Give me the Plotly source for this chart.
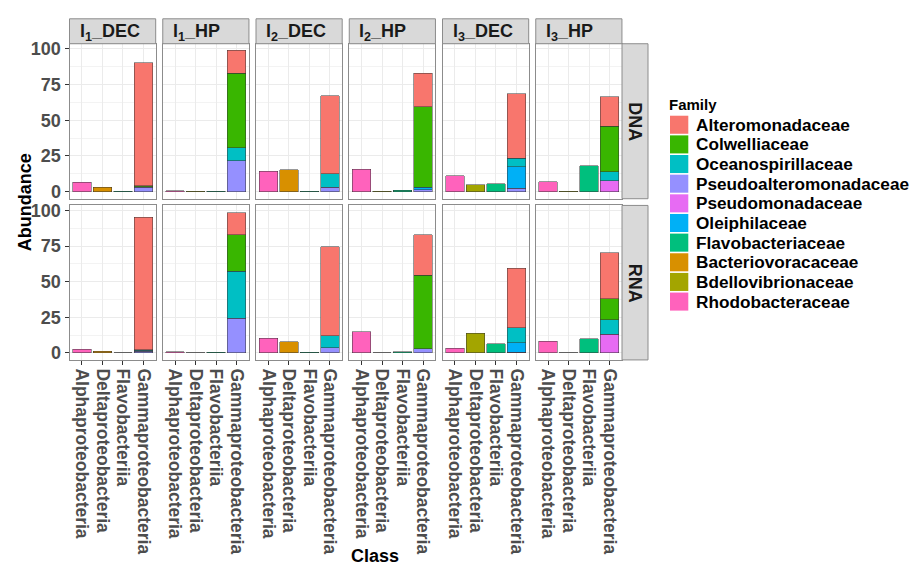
import plotly.graph_objects as go

W, H = 919, 568

# ---------------- data ----------------
panels = ["l1_DEC", "l1_HP", "l2_DEC", "l2_HP", "l3_DEC", "l3_HP"]
panel_labels = ["l<sub>1</sub>_DEC", "l<sub>1</sub>_HP", "l<sub>2</sub>_DEC",
                "l<sub>2</sub>_HP", "l<sub>3</sub>_DEC", "l<sub>3</sub>_HP"]
row_labels = ["DNA", "RNA"]
classes = ["Alphaproteobacteria", "Deltaproteobacteria", "Flavobacteriia", "Gammaproteobacteria"]

families = ["Alteromonadaceae", "Colwelliaceae", "Oceanospirillaceae", "Pseudoalteromonadaceae",
            "Pseudomonadaceae", "Oleiphilaceae", "Flavobacteriaceae", "Bacteriovoracaceae",
            "Bdellovibrionaceae", "Rhodobacteraceae"]
family_colors = ["#F8766D", "#39B600", "#00BFC4", "#9590FF", "#E76BF3",
                 "#00B0F6", "#00BF7D", "#D89000", "#A3A500", "#FF62BC"]
family_class = ["Gammaproteobacteria", "Gammaproteobacteria", "Gammaproteobacteria",
                "Gammaproteobacteria", "Gammaproteobacteria", "Gammaproteobacteria",
                "Flavobacteriia", "Deltaproteobacteria", "Deltaproteobacteria",
                "Alphaproteobacteria"]
# stacking order, bottom to top
stack_order = ["Rhodobacteraceae", "Bacteriovoracaceae", "Bdellovibrionaceae", "Flavobacteriaceae",
               "Pseudoalteromonadaceae", "Pseudomonadaceae", "Oleiphilaceae",
               "Oceanospirillaceae", "Colwelliaceae", "Alteromonadaceae"]

# abundance per panel (l1_DEC, l1_HP, l2_DEC, l2_HP, l3_DEC, l3_HP)
Rhodobacteraceae_DNA = [6.6, 0.8, 14.4, 15.8, 11.0, 6.9]
Rhodobacteraceae_RNA = [2.6, 0.8, 10.4, 15.0, 3.3, 8.1]
Bacteriovoracaceae_DNA = [3.2, 0, 15.3, 0, 0, 0]
Bacteriovoracaceae_RNA = [1.2, 0, 7.9, 0, 0, 0]
Bdellovibrionaceae_DNA = [0, 0.3, 0, 0.3, 4.8, 0.3]
Bdellovibrionaceae_RNA = [0, 0.3, 0, 0.3, 13.9, 0.3]
Flavobacteriaceae_DNA = [0.4, 0.3, 0.4, 1.1, 5.5, 18.3]
Flavobacteriaceae_RNA = [0.3, 0.4, 0.5, 1.0, 6.5, 10.0]
Pseudoalteromonadaceae_DNA = [3.0, 21.5, 3.0, 1.5, 2.3, 0]
Pseudoalteromonadaceae_RNA = [1.2, 24.5, 3.5, 3.0, 0.5, 0]
Pseudomonadaceae_DNA = [0, 0, 0, 0, 0, 7.8]
Pseudomonadaceae_RNA = [0, 0, 0, 0, 0, 13.2]
Oleiphilaceae_DNA = [0, 0, 0, 1.5, 15.3, 0]
Oleiphilaceae_RNA = [0, 0, 0, 0, 6.7, 0]
Oceanospirillaceae_DNA = [0.5, 9.2, 9.4, 0, 5.7, 6.1]
Oceanospirillaceae_RNA = [0.6, 32.8, 8.5, 0, 10.4, 10.1]
Colwelliaceae_DNA = [0.6, 52.3, 0, 56.5, 0, 31.9]
Colwelliaceae_RNA = [0.6, 25.6, 0, 51.5, 0, 14.6]
Alteromonadaceae_DNA = [86.0, 15.8, 54.9, 23.5, 45.1, 20.6]
Alteromonadaceae_RNA = [92.8, 15.4, 62.6, 28.4, 41.7, 32.3]

values = {
    "Rhodobacteraceae": (Rhodobacteraceae_DNA, Rhodobacteraceae_RNA),
    "Bacteriovoracaceae": (Bacteriovoracaceae_DNA, Bacteriovoracaceae_RNA),
    "Bdellovibrionaceae": (Bdellovibrionaceae_DNA, Bdellovibrionaceae_RNA),
    "Flavobacteriaceae": (Flavobacteriaceae_DNA, Flavobacteriaceae_RNA),
    "Pseudoalteromonadaceae": (Pseudoalteromonadaceae_DNA, Pseudoalteromonadaceae_RNA),
    "Pseudomonadaceae": (Pseudomonadaceae_DNA, Pseudomonadaceae_RNA),
    "Oleiphilaceae": (Oleiphilaceae_DNA, Oleiphilaceae_RNA),
    "Oceanospirillaceae": (Oceanospirillaceae_DNA, Oceanospirillaceae_RNA),
    "Colwelliaceae": (Colwelliaceae_DNA, Colwelliaceae_RNA),
    "Alteromonadaceae": (Alteromonadaceae_DNA, Alteromonadaceae_RNA),
}
y_ticks = [0, 25, 50, 75, 100]

# ---------------- layout geometry (pixels) ----------------
FONT = "Liberation Sans, Arial, Helvetica, sans-serif"
col_left0, col_w, col_step = 69.5, 86.2, 93.25
row_px = [(39.3, 196.5), (203.3, 360.0)]
strip_top = (14.0, 39.3)
strip_right = (622.0, 648.0)
border = "#8C8C8C"


def px(xp):
    return xp / W


def py(yp):
    return 1 - yp / H


fig = go.Figure()
layout = dict(
    width=W, height=H, margin=dict(l=0, r=0, t=0, b=0),
    paper_bgcolor="white", plot_bgcolor="white",
    barmode="stack", bargap=0.1, showlegend=False,
    font=dict(family=FONT),
)
shapes, annotations = [], []

for r in range(2):
    for c in range(6):
        n = r * 6 + c + 1
        xa = "x" if n == 1 else f"x{n}"
        ya = "y" if n == 1 else f"y{n}"
        x0 = col_left0 + c * col_step
        x1 = x0 + col_w
        ytop, ybot = row_px[r]
        for fam in stack_order:
            i = families.index(fam)
            v = values[fam][r][c]
            if v <= 0:
                continue
            fig.add_trace(go.Bar(
                x=[family_class[i]], y=[v], name=fam,
                marker=dict(color=family_colors[i], line=dict(color="#333333", width=0.5)),
                xaxis=xa, yaxis=ya, showlegend=False,
            ))
        xkey = "xaxis" if n == 1 else f"xaxis{n}"
        ykey = "yaxis" if n == 1 else f"yaxis{n}"
        layout[xkey] = dict(
            domain=[px(x0), px(x1)], anchor=ya,
            type="category", categoryorder="array", categoryarray=classes,
            tickmode="array", tickvals=classes, ticktext=classes,
            range=[-0.6, 3.6],
            showgrid=True, gridcolor="#EBEBEB", gridwidth=1,
            showline=True, mirror=True, linecolor=border, linewidth=1,
            ticks="outside" if r == 1 else "", ticklen=4, tickcolor="#333333",
            showticklabels=(r == 1), tickangle=90,
            tickfont=dict(family=FONT, size=17.5, color="#4D4D4D", weight="bold"),
            fixedrange=True,
        )
        layout[ykey] = dict(
            domain=[py(ybot), py(ytop)], anchor=xa,
            range=[-4.9, 103.5],
            tickmode="array", tickvals=y_ticks,
            showgrid=True, gridcolor="#EBEBEB", gridwidth=1,
            minor=dict(dtick=12.5, tick0=0, showgrid=True, gridcolor="#F3F3F3", gridwidth=0.6),
            zeroline=False,
            showline=True, mirror=True, linecolor=border, linewidth=1,
            ticks="outside" if c == 0 else "", ticklen=4, tickcolor="#333333",
            showticklabels=(c == 0),
            tickfont=dict(family=FONT, size=18, color="#4D4D4D", weight="bold"),
            fixedrange=True,
        )
        # top strips
        if r == 0:
            shapes.append(dict(type="rect", xref="paper", yref="paper",
                               x0=px(x0), x1=px(x1), y0=py(strip_top[1]), y1=py(strip_top[0]),
                               fillcolor="#D9D9D9", line=dict(color=border, width=1)))
            annotations.append(dict(xref="paper", yref="paper", x=px(x0 + 8),
                                    y=py((strip_top[0] + strip_top[1]) / 2 + 1),
                                    text=panel_labels[c], showarrow=False,
                                    xanchor="left", yanchor="middle",
                                    font=dict(family=FONT, size=18, color="#1A1A1A", weight="bold")))
    # right strips
    ytop, ybot = row_px[r]
    shapes.append(dict(type="rect", xref="paper", yref="paper",
                       x0=px(strip_right[0]), x1=px(strip_right[1]), y0=py(ybot), y1=py(ytop),
                       fillcolor="#D9D9D9", line=dict(color=border, width=1)))
    annotations.append(dict(xref="paper", yref="paper",
                            x=px((strip_right[0] + strip_right[1]) / 2), y=py((ytop + ybot) / 2),
                            text=row_labels[r], showarrow=False, textangle=90,
                            xanchor="center", yanchor="middle",
                            font=dict(family=FONT, size=18, color="#1A1A1A", weight="bold")))

# axis titles
annotations.append(dict(xref="paper", yref="paper", x=px(25), y=py(200), text="Abundance",
                        showarrow=False, textangle=-90, xanchor="center", yanchor="middle",
                        font=dict(family=FONT, size=18, color="black", weight="bold")))
annotations.append(dict(xref="paper", yref="paper", x=px(375), y=py(559), text="Class",
                        showarrow=False, xanchor="center", yanchor="middle",
                        font=dict(family=FONT, size=18, color="black", weight="bold")))

# legend (manual, keyed from the family list)
annotations.append(dict(xref="paper", yref="paper", x=px(666.5), y=py(100.5), text="Family",
                        showarrow=False, xanchor="left", yanchor="middle",
                        font=dict(family=FONT, size=15, color="black", weight="bold")))
key_top0, key_pitch, key_size = 112.3, 19.93, 18.3
for i, fam in enumerate(families):
    t = key_top0 + i * key_pitch
    shapes.append(dict(type="rect", xref="paper", yref="paper",
                       x0=px(670), x1=px(670 + key_size), y0=py(t + key_size), y1=py(t),
                       fillcolor=family_colors[i], line=dict(width=0)))
    annotations.append(dict(xref="paper", yref="paper", x=px(694), y=py(t + key_size / 2),
                            text=fam, showarrow=False, xanchor="left", yanchor="middle",
                            font=dict(family=FONT, size=17.2, color="black", weight="bold")))

layout["shapes"] = shapes
layout["annotations"] = annotations
fig.update_layout(**layout)
fig.write_html("out.html", config={"displayModeBar": False},
               post_script="document.body.style.margin='0';document.body.style.overflow='hidden';")
